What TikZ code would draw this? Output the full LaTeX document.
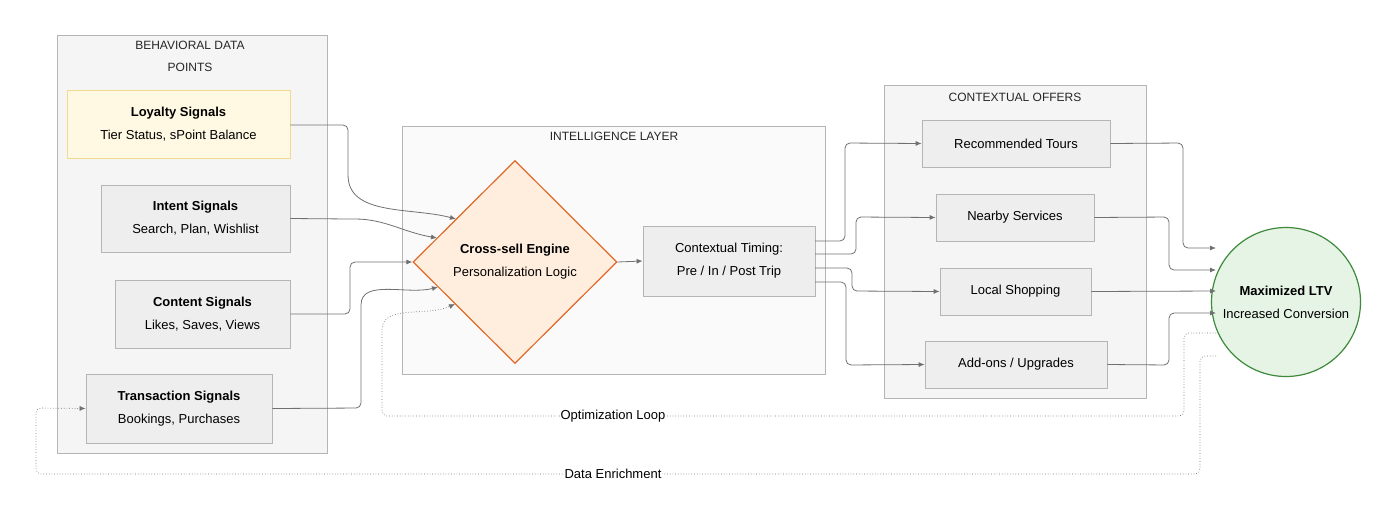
\documentclass[tikz,border=0pt]{standalone}
\usepackage{fontspec}
\setmainfont{Liberation Sans}
\usetikzlibrary{arrows.meta,shapes.geometric}
\definecolor{grpfill}{HTML}{F5F5F5}
\definecolor{grpline}{HTML}{B5B5B5}
\definecolor{boxfill}{HTML}{EEEEEE}
\definecolor{loyfill}{HTML}{FFF9E3}
\definecolor{loyline}{HTML}{F2DA8C}
\definecolor{engfill}{HTML}{FFEEDD}
\definecolor{engline}{HTML}{E0692A}
\definecolor{ltvfill}{HTML}{E6F4E5}
\definecolor{ltvline}{HTML}{3E8A3C}
\definecolor{wire}{HTML}{707070}
\tikzset{
  group/.style={draw=grpline,fill=grpfill,line width=0.8pt},
  grouptitle/.style={font=\fontsize{12}{22}\selectfont,align=center,text=black!85},
  sigbox/.style={draw=grpline,fill=boxfill,line width=0.8pt,align=center,font=\fontsize{13}{23}\selectfont,inner sep=0pt},
  flow/.style={draw=wire,line width=0.8pt,-{Latex[length=6pt,width=5pt]},rounded corners=5pt},
  loop/.style={draw=wire,line width=0.7pt,dotted,-{Latex[length=6pt,width=5pt]},rounded corners=5pt},
  looplabel/.style={fill=white,inner sep=1pt,font=\fontsize{13}{15}\selectfont}
}
\begin{document}
\begin{tikzpicture}[x=1pt,y=-1pt]
  \useasboundingbox (0,0) rectangle (1400,520);

  % Gruppen
  \draw[group] (57,35) rectangle (327,453);
  \node[grouptitle] (tbeh) at (190,56) {BEHAVIORAL DATA\\POINTS};
  \draw[group,fill=grpfill!50] (402,126) rectangle (825,374);
  \node[grouptitle] (tint) at (614,136) {INTELLIGENCE LAYER};
  \draw[group] (884,85) rectangle (1146,398);
  \node[grouptitle] (toff) at (1015,97) {CONTEXTUAL OFFERS};

  % Signale
  \node[sigbox,draw=loyline,fill=loyfill,minimum width=223pt,minimum height=68pt] (loy) at (178.5,124) {\textbf{Loyalty Signals}\\Tier Status, sPoint Balance};
  \node[sigbox,minimum width=189pt,minimum height=67pt] (int) at (195.5,218.5) {\textbf{Intent Signals}\\Search, Plan, Wishlist};
  \node[sigbox,minimum width=175pt,minimum height=68pt] (con) at (202.5,314) {\textbf{Content Signals}\\Likes, Saves, Views};
  \node[sigbox,minimum width=186pt,minimum height=69pt] (tra) at (179,408.5) {\textbf{Transaction Signals}\\Bookings, Purchases};

  % Engine
  \node[diamond,draw=engline,fill=engfill,line width=1.2pt,minimum width=204pt,minimum height=203pt,inner sep=0pt,align=center,font=\fontsize{13}{23}\selectfont] (eng) at (515,262) {\textbf{Cross-sell Engine}\\Personalization Logic};
  \node[sigbox,minimum width=172pt,minimum height=70pt] (tim) at (729,261) {Contextual Timing:\\Pre / In / Post Trip};

  % Angebote
  \node[sigbox,minimum width=188pt,minimum height=47pt] (tour) at (1016,143.5) {Recommended Tours};
  \node[sigbox,minimum width=158pt,minimum height=47pt] (near) at (1015,217.5) {Nearby Services};
  \node[sigbox,minimum width=151pt,minimum height=47pt] (shop) at (1015.5,291.5) {Local Shopping};
  \node[sigbox,minimum width=182pt,minimum height=47pt] (addo) at (1016,364.5) {Add-ons / Upgrades};

  % Ziel
  \node[circle,draw=ltvline,fill=ltvfill,line width=1.2pt,minimum size=149pt,inner sep=0pt,align=center,font=\fontsize{13}{23}\selectfont] (ltv) at (1286,302) {\textbf{Maximized LTV}\\Increased Conversion};

  % Hilfspunkte
  \coordinate (e1) at (456,219);
  \coordinate (e2) at (437,238);
  \coordinate (e3) at (438,287);
  \coordinate (e4) at (455,304);
  \coordinate (o1) at (1216,333);
  \coordinate (o2) at (1216,356);

  % Linien links
  \draw[flow] (loy.east |- 0,125) -- (348,125) -- (348,170) to[out=-90,in=165] (e1);
  \draw[flow] (int.east) -- (350,219) to[out=0,in=170] (e2);
  \draw[flow] (con.east) -- (350,314) -- (350,262) -- (eng.west);
  \draw[flow] (tra.east) -- (361,408) -- (361,310) to[out=90,in=195] (e3);

  % Mitte
  \draw[flow] (eng.east) -- (tim.west);
  \draw[flow] (815,241) -- (845,241) -- (845,143) -- (tour.west);
  \draw[flow] (815,254) -- (856,254) -- (856,217) -- (near.west);
  \draw[flow] (815,268) -- (852,268) -- (852,291) -- (shop.west);
  \draw[flow] (815,282) -- (846,282) -- (846,365) -- (addo.west);

  % Rechts
  \draw[flow] (tour.east) -- (1183,143) -- (1183,248) -- (1216,248);
  \draw[flow] (near.east) -- (1169,217) -- (1169,270) -- (1216,270);
  \draw[flow] (shop.east) -- (1216,291);
  \draw[flow] (addo.east) -- (1169,365) -- (1169,313) -- (1216,313);

  % Rueckkopplung
  \draw[loop] (o1) -- (1184,333) -- (1184,416) -- (382,416) -- (382,335) to[out=90,in=205] (e4);
  \node[looplabel] (lopt) at (613,416) {Optimization Loop};
  \draw[loop] (o2) -- (1200,356) -- (1200,474) -- (36,474) -- (36,408) -- (tra.west);
  \node[looplabel] (lenr) at (613,474) {Data Enrichment};
\end{tikzpicture}
\end{document}
